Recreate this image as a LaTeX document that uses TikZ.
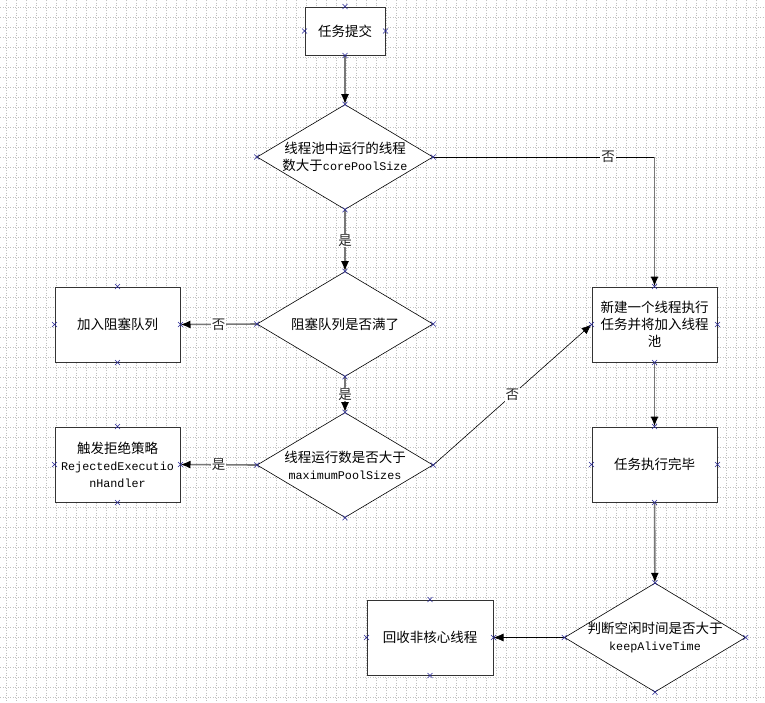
\documentclass[tikz,border=0pt]{standalone}
\usepackage{fontspec}
\setmainfont{Noto Sans CJK SC}
\setmonofont{Liberation Mono}[Scale=0.87]
\usetikzlibrary{arrows.meta,shapes.geometric}
\definecolor{flowgray}{RGB}{120,120,120}
\definecolor{gridgray}{RGB}{192,192,192}
\definecolor{markblue}{RGB}{40,40,150}
\tikzset{
  procbox/.style={draw=black!80,line width=1pt,fill=white,minimum width=125pt,minimum height=75pt,align=center,inner sep=2pt},
  decide/.style={diamond,draw=black,line width=0.6pt,fill=white,aspect=1.68,minimum width=176pt,minimum height=105pt,inner sep=0pt,align=center},
  flow/.style={draw=flowgray,line width=1.6pt,-{Latex[black,length=10pt,width=8pt]}},
  thinflow/.style={draw=black,line width=0.6pt,-{Latex[black,length=10pt,width=8pt]}},
  answer/.style={fill=white,inner sep=1pt,text=black!85},
  xmark/.style={draw=markblue,line width=0.5pt},
}

\begin{document}
\begin{tikzpicture}[x=1pt,y=-1pt,font=\fontsize{13.5}{17}\selectfont]
\useasboundingbox (0,0) rectangle (765,702);
% background grid
\fill[white] (0,0) rectangle (765,702);
\foreach \i in {0,...,75} {
  \draw[gridgray,line width=0.6pt,dash pattern=on 1pt off 1.5pt] (6.5+10*\i,0) -- (6.5+10*\i,702);
}
\foreach \j in {0,...,69} {
  \draw[gridgray,line width=0.6pt,dash pattern=on 1pt off 1.5pt] (0,7+10*\j) -- (765,7+10*\j);
}

% main column
\node[procbox,minimum width=80pt,minimum height=48pt] (submit) at (345,31) {任务提交};
\node[decide] (corechk) at (345,157) {线程池中运行的线程\\数大于\texttt{corePoolSize}};
\node[decide] (queuechk) at (345,324) {阻塞队列是否满了};
\node[decide] (maxchk) at (345,465) {线程运行数是否大于\\\texttt{maximumPoolSizes}};

% left column
\node[procbox] (enqueue) at (117.5,324.5) {加入阻塞队列};
\node[procbox] (reject) at (117.5,464.5) {触发拒绝策略\\\texttt{RejectedExecutio}\\\texttt{nHandler}};

% right column
\node[procbox] (newthread) at (654.5,324.5) {新建一个线程执行\\任务并将加入线程\\池};
\node[procbox] (done) at (654.5,464.5) {任务执行完毕};
\node[decide,minimum width=181pt,minimum height=109pt,inner xsep=-4pt] (idlechk) at (655,637.5) {判断空闲时间是否大于\\\texttt{keepAliveTime}};
\node[procbox,minimum width=126pt] (recycle) at (430,637.5) {回收非核心线程};

% connectors
\coordinate (bend) at (newthread.north |- corechk.east);
\draw[flow] (submit) -- (corechk);
\draw[draw=black,line width=0.6pt] (corechk.east) -- node[answer,pos=0.79] {否} (bend);
\draw[flow] (bend) -- (newthread.north);
\draw[flow] (corechk) -- node[answer] {是} (queuechk);
\draw[flow] (queuechk.west) -- node[answer] {否} (enqueue.east);
\draw[flow] (queuechk) -- node[answer] {是} (maxchk);
\draw[flow] (maxchk.west) -- node[answer] {是} (reject.east);
\draw[thinflow] (maxchk.east) -- node[answer] {否} (newthread.west);
\draw[flow] (newthread) -- (done);
\draw[flow] (done) -- (idlechk);
\draw[thinflow] (idlechk.west) -- (recycle.east);

% connection point marks
\foreach \n in {submit,corechk,queuechk,maxchk,enqueue,reject,newthread,done,idlechk,recycle} {
  \foreach \a in {north,south,east,west} {
    \draw[xmark] (\n.\a) ++(-2.5,-2.5) -- ++(5,5) ++(-5,0) -- ++(5,-5);
  }
}
\end{tikzpicture}
\end{document}
